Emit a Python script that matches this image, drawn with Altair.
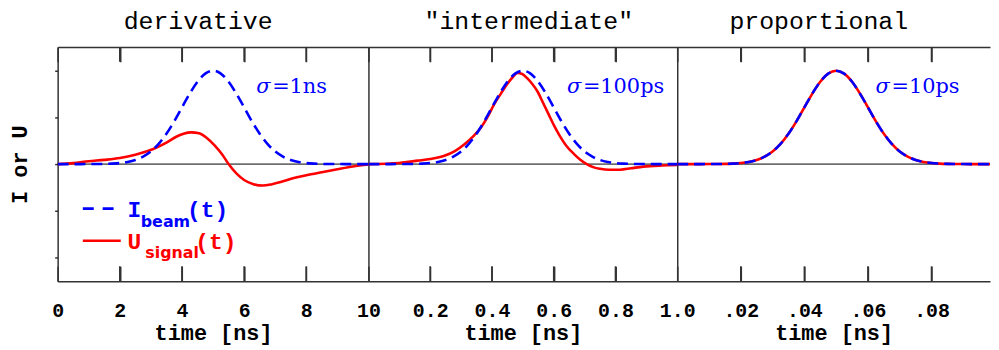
import altair as alt
import pandas as pd

# ---------------- data ----------------
panel_titles = ['derivative', '"intermediate"', 'proportional']
sigma_labels = ['=1ns', '=100ps', '=10ps']

# Gaussian beam current (normalised), sampled every 0.25 sigma
t_beam_1 = [0, 0.25, 0.5, 0.75, 1, 1.25, 1.5, 1.75, 2, 2.25, 2.5, 2.75, 3, 3.25, 3.5, 3.75,
            4, 4.25, 4.5, 4.75, 5, 5.25, 5.5, 5.75, 6, 6.25, 6.5, 6.75, 7, 7.25, 7.5, 7.75,
            8, 8.25, 8.5, 8.75, 9, 9.25, 9.5, 9.75, 10]
t_beam_2 = [0, 0.025, 0.05, 0.075, 0.1, 0.125, 0.15, 0.175, 0.2, 0.225, 0.25, 0.275, 0.3,
            0.325, 0.35, 0.375, 0.4, 0.425, 0.45, 0.475, 0.5, 0.525, 0.55, 0.575, 0.6, 0.625,
            0.65, 0.675, 0.7, 0.725, 0.75, 0.775, 0.8, 0.825, 0.85, 0.875, 0.9, 0.925, 0.95,
            0.975, 1.0]
t_beam_3 = [0, 0.0025, 0.005, 0.0075, 0.01, 0.0125, 0.015, 0.0175, 0.02, 0.0225, 0.025,
            0.0275, 0.03, 0.0325, 0.035, 0.0375, 0.04, 0.0425, 0.045, 0.0475, 0.05, 0.0525,
            0.055, 0.0575, 0.06, 0.0625, 0.065, 0.0675, 0.07, 0.0725, 0.075, 0.0775, 0.08,
            0.0825, 0.085, 0.0875, 0.09, 0.0925, 0.095, 0.0975, 0.1]
i_beam = [0, 0, 0, 0, 0.0003, 0.0009, 0.0022, 0.0051, 0.011, 0.023, 0.044, 0.080, 0.135,
          0.216, 0.325, 0.458, 0.607, 0.755, 0.882, 0.969, 1.0, 0.969, 0.882, 0.755, 0.607,
          0.458, 0.325, 0.216, 0.135, 0.080, 0.044, 0.023, 0.011, 0.0051, 0.0022, 0.0009,
          0.0003, 0, 0, 0, 0]

# signal voltage
t_sig_1 = [0, 0.5, 1.0, 1.5, 2.0, 2.5, 2.9, 3.2, 3.5, 3.8, 4.05, 4.3, 4.55, 4.8, 5.05, 5.3,
           5.5, 5.75, 6.0, 6.3, 6.6, 6.9, 7.2, 7.6, 8.0, 8.5, 9.0, 9.5, 10.0]
u_sig_1 = [0, 0.01, 0.03, 0.045, 0.065, 0.1, 0.14, 0.18, 0.23, 0.29, 0.325, 0.34, 0.33, 0.28,
           0.2, 0.1, 0.0, -0.1, -0.17, -0.215, -0.23, -0.215, -0.19, -0.15, -0.12, -0.087,
           -0.055, -0.025, -0.005]
t_sig_2 = [0, 0.1, 0.16, 0.2, 0.246, 0.28, 0.31, 0.34, 0.364, 0.385, 0.407, 0.43, 0.45, 0.467,
           0.483, 0.498, 0.514, 0.53, 0.547, 0.565, 0.584, 0.6, 0.62, 0.64, 0.665, 0.685, 0.707,
           0.73, 0.75, 0.78, 0.815, 0.85, 0.89, 0.95, 1.0]
u_sig_2 = [0, 0.012, 0.037, 0.055, 0.09, 0.14, 0.21, 0.3, 0.39, 0.5, 0.64, 0.76, 0.86, 0.93,
           0.975, 0.965, 0.92, 0.86, 0.78, 0.66, 0.53, 0.42, 0.30, 0.2, 0.11, 0.05, 0.0,
           -0.035, -0.05, -0.06, -0.06, -0.045, -0.027, -0.015, -0.01]
t_sig_3 = t_beam_3
u_sig_3 = [0, 0, 0, 0, 0.0003, 0.0009, 0.0022, 0.0051, 0.011, 0.023, 0.044, 0.080, 0.135,
           0.216, 0.325, 0.458, 0.607, 0.755, 0.882, 0.969, 1.0, 0.969, 0.882, 0.755, 0.607,
           0.458, 0.325, 0.216, 0.135, 0.080, 0.044, 0.023, 0.011, 0.0051, 0.0022, 0.0009,
           0.0003, 0, 0, 0, 0]

x_max = [10, 1.0, 0.0984]
tick_values = [[2, 4, 6, 8], [0.2, 0.4, 0.6, 0.8], [0.02, 0.04, 0.06, 0.08]]
label_values = [[0, 2, 4, 6, 8, 10], [0.2, 0.4, 0.6, 0.8, 1.0], [0.02, 0.04, 0.06, 0.08]]
label_exprs = ["format(datum.value, 'd')", "format(datum.value, '.1f')",
               "replace(format(datum.value, '.2f'), '0.', '.')"]
sigma_pos_t = [6.39, 0.643, 0.0624]
sigma_pos_v = 0.764

# legend (panel 1, data coordinates)
leg_line_t = [0.81, 0.81]
leg_line_t2 = [1.82, 2.03]
leg_line_v = [-0.477, -0.821]
leg_text = ['I', '(t)', 'U', '(t)']
leg_text_t = [2.246, 4.163, 2.246, 4.43]
leg_text_v = [-0.566, -0.566, -0.913, -0.913]
leg_text_c = ['#0000ff', '#0000ff', '#ff0000', '#ff0000']
leg_sub = ['beam', 'signal']
leg_sub_t = [2.674, 2.82]
leg_sub_v = [-0.676, -1.005]
leg_sub_c = ['#0000ff', '#ff0000']

# ---------------- styling ----------------
H = 236
TICK_PX = 15
widths = [313, 311, 315]
title_dx = [-15, 6, -15]
Y_DOM = [-1.255, 1.255]
AX = '#333333'
BLUE = '#0000ff'
RED = '#ff0000'
MONO = 'Liberation Mono'
TICK_LEN = TICK_PX * (Y_DOM[1] - Y_DOM[0]) / H   # tick length in y-scale units
# grid drawn only as short inward ticks at the top and bottom edges
GRID_DASH = [TICK_PX, H - 2 * TICK_PX, TICK_PX]


def panel(k, t_b, i_b, t_s, u_s):
    first = k == 0
    xs = alt.Scale(domain=[0, x_max[k]], nice=False, zero=False)
    ys = alt.Scale(domain=Y_DOM, nice=False, zero=False)
    beam = pd.DataFrame({'t': t_b, 'v': i_b})
    sig = pd.DataFrame({'t': t_s, 'v': u_s})
    tk = pd.DataFrame({'tk': tick_values[k]})
    tk['top0'] = Y_DOM[1]
    tk['top1'] = Y_DOM[1] - TICK_LEN
    tk['bot0'] = Y_DOM[0]
    tk['bot1'] = Y_DOM[0] + TICK_LEN

    if first:
        yaxis = alt.Axis(orient='left', values=[-1, -0.5, 0, 0.5, 1], labels=False, ticks=True,
                         tickSize=3, tickColor=AX, tickWidth=1.5, domain=True, domainColor=AX,
                         domainWidth=1.5, grid=False, title='I or U', titleFont=MONO,
                         titleFontWeight='bold', titleFontSize=22, titlePadding=23,
                         titleColor='black')
    else:
        yaxis = alt.Axis(orient='left', values=[0], labels=False, ticks=False, domain=True,
                         domainColor=AX, domainWidth=1.5, grid=False, title='')

    bottom_axis = alt.Axis(orient='bottom', values=label_values[k], labelExpr=label_exprs[k],
                           ticks=False, tickSize=0, domain=True, domainColor=AX, domainWidth=1.5,
                           grid=True, gridColor=AX, gridWidth=1.6, gridDash=GRID_DASH,
                           gridOpacity=1,
                           labelFont=MONO, labelFontWeight='bold', labelFontSize=20,
                           labelColor='black', labelPadding=20, labelFlush=False,
                           labelOverlap=False, labelBound=False,
                           title='time [ns]', titleFont=MONO, titleFontWeight='bold',
                           titleFontSize=22, titleColor='black', titlePadding=2)
    top_axis = alt.Axis(orient='bottom', offset=-H, values=tick_values[k], labels=False,
                        domain=True, domainColor=AX, domainWidth=1.5, ticks=False,
                        grid=False, title='')

    def Y(field):
        return alt.Y(field, scale=ys, axis=yaxis)

    zero = alt.Chart(pd.DataFrame({'z': [0]})).mark_rule(color='black', strokeWidth=1).encode(
        y=Y('z:Q'))
    ticks_top = alt.Chart(tk).mark_rule(color=AX, strokeWidth=1.6).encode(
        x=alt.X('tk:Q', scale=xs, axis=None), y=Y('top0:Q'), y2='top1:Q')
    ticks_bot = alt.Chart(tk).mark_rule(color=AX, strokeWidth=1.6).encode(
        x=alt.X('tk:Q', scale=xs, axis=None), y=Y('bot0:Q'), y2='bot1:Q')
    sig_line = alt.Chart(sig).mark_line(color=RED, strokeWidth=2.6, interpolate='monotone',
                                        clip=True).encode(
        x=alt.X('t:Q', scale=xs, axis=bottom_axis), y=Y('v:Q'))
    beam_line = alt.Chart(beam).mark_line(color=BLUE, strokeWidth=2.6, strokeDash=[11, 6],
                                          interpolate='monotone', clip=True).encode(
        x=alt.X('t:Q', scale=xs, axis=None), y=Y('v:Q'))
    sdf = pd.DataFrame({'t': [sigma_pos_t[k]], 'v': [sigma_pos_v], 's': ['σ'],
                        'r': [sigma_labels[k]]})
    sigma_sym = alt.Chart(sdf).mark_text(align='left', baseline='alphabetic', font='DejaVu Serif',
                                         fontStyle='italic', fontSize=21, color=BLUE).encode(
        x=alt.X('t:Q', scale=xs, axis=top_axis), y=Y('v:Q'), text='s:N')
    sigma_rest = alt.Chart(sdf).mark_text(align='left', baseline='alphabetic', dx=16,
                                          font='DejaVu Serif', fontSize=21, color=BLUE).encode(
        x=alt.X('t:Q', scale=xs, axis=None), y=Y('v:Q'), text='r:N')

    layers = [zero, sig_line, beam_line, sigma_sym, sigma_rest, ticks_top, ticks_bot]

    if first:
        ldf = pd.DataFrame({'t': leg_line_t, 't2': leg_line_t2, 'v': leg_line_v})
        leg_blue = alt.Chart(ldf.iloc[[0]]).mark_rule(color=BLUE, strokeWidth=2.6,
                                                      strokeDash=[11, 9]).encode(
            x=alt.X('t:Q', scale=xs, axis=None), x2='t2:Q', y=Y('v:Q'))
        leg_red = alt.Chart(ldf.iloc[[1]]).mark_rule(color=RED, strokeWidth=2.6).encode(
            x=alt.X('t:Q', scale=xs, axis=None), x2='t2:Q', y=Y('v:Q'))
        tdf = pd.DataFrame({'t': leg_text_t, 'v': leg_text_v, 's': leg_text, 'c': leg_text_c})
        leg_txt = alt.Chart(tdf).mark_text(align='left', baseline='alphabetic', font=MONO,
                                           fontWeight='bold', fontSize=23).encode(
            x=alt.X('t:Q', scale=xs, axis=None), y=Y('v:Q'), text='s:N',
            color=alt.Color('c:N', scale=None, legend=None))
        sub_df = pd.DataFrame({'t': leg_sub_t, 'v': leg_sub_v, 's': leg_sub, 'c': leg_sub_c})
        leg_sub_txt = alt.Chart(sub_df).mark_text(align='left', baseline='alphabetic',
                                                  font='DejaVu Sans', fontWeight='bold',
                                                  fontSize=16).encode(
            x=alt.X('t:Q', scale=xs, axis=None), y=Y('v:Q'), text='s:N',
            color=alt.Color('c:N', scale=None, legend=None))
        layers += [leg_blue, leg_red, leg_txt, leg_sub_txt]

    return alt.layer(*layers).resolve_axis(x='independent').properties(
        width=widths[k], height=H,
        title=alt.Title(panel_titles[k], font=MONO, fontSize=25, fontWeight='normal',
                        color='black', anchor='middle', dx=title_dx[k], offset=-8,
                        baseline='alphabetic'))


p1 = panel(0, t_beam_1, i_beam, t_sig_1, u_sig_1)
p2 = panel(1, t_beam_2, i_beam, t_sig_2, u_sig_2)
p3 = panel(2, t_beam_3, i_beam, t_sig_3, u_sig_3)

chart = alt.hconcat(p1, p2, p3, spacing=0, bounds='flush').configure_view(
    stroke=None).properties(padding={'left': 0, 'top': 0, 'right': 0, 'bottom': 0},
                            background='white')

chart.save('out.html', embed_options={'renderer': 'svg', 'actions': False})
